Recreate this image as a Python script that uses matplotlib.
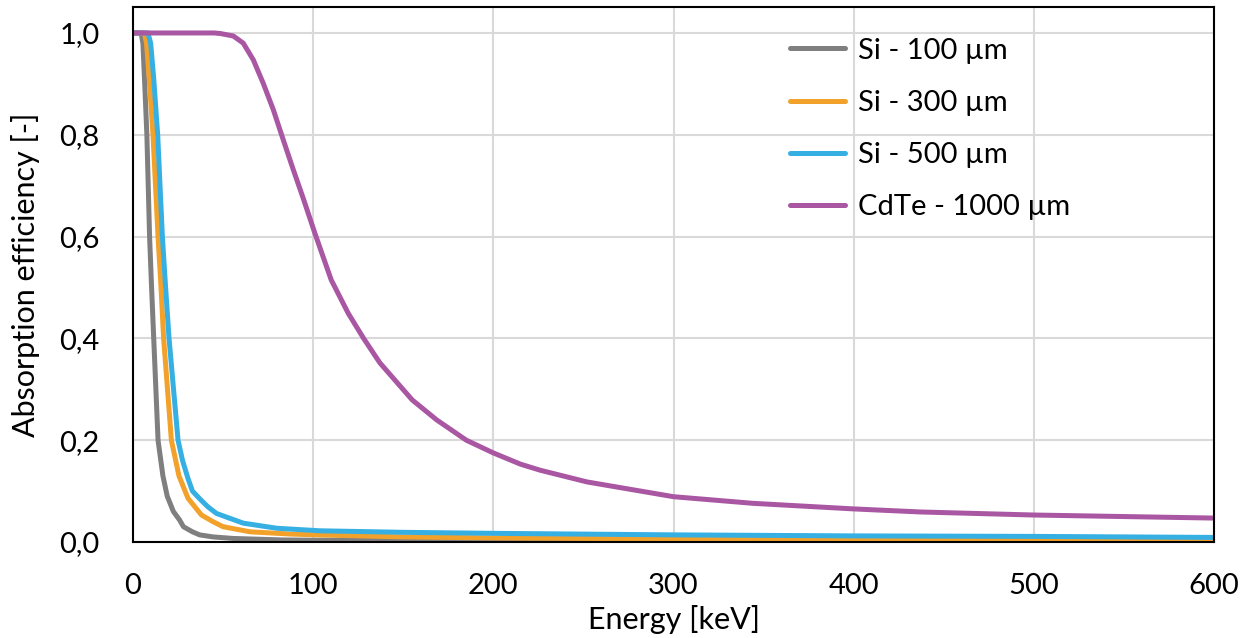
import matplotlib
matplotlib.use("Agg")
import matplotlib.pyplot as plt
from matplotlib.ticker import FuncFormatter

plt.rcParams['font.family'] = ['Lato', 'DejaVu Sans']

# values
e_si100 = [0, 4.5, 5.5, 6.5, 7.7, 9.2, 10.2, 11.5, 13.9, 16.6, 19, 22.4, 25.9, 28, 33, 37, 44.4, 55.5, 83, 100,
           200, 400, 600]
v_si100 = [1.0, 1.0, 0.98, 0.9, 0.8, 0.6, 0.51, 0.4, 0.2, 0.13, 0.09, 0.06, 0.043, 0.030, 0.02, 0.014, 0.010,
           0.007, 0.004, 0.0035, 0.002, 0.001, 0.001]

e_si300 = [0, 6.3, 7.5, 9, 11.1, 13.9, 15.4, 17, 21.3, 25.5, 30.5, 38, 44.4, 50, 65, 87, 104, 150, 200, 300,
           400, 500, 600]
v_si300 = [1.0, 1.0, 0.98, 0.91, 0.8, 0.6, 0.51, 0.4, 0.2, 0.13, 0.086, 0.053, 0.04, 0.030, 0.020, 0.0157,
           0.0138, 0.010, 0.008, 0.006, 0.005, 0.004, 0.003]

e_si500 = [0, 8.3, 9.8, 11.5, 13.7, 16.3, 18, 20, 25, 27.5, 30.5, 33, 37, 41.6, 46.4, 61.2, 79.8, 103.8, 150,
           200, 300, 400, 500, 600]
v_si500 = [1.0, 1.0, 0.98, 0.91, 0.8, 0.6, 0.505, 0.4, 0.2, 0.16, 0.125, 0.1, 0.085, 0.069, 0.056, 0.037,
           0.027, 0.022, 0.019, 0.017, 0.014, 0.012, 0.011, 0.009]

e_cdte = [0, 45, 48.3, 55.7, 61.2, 66.8, 72.3, 77.9, 83.4, 89, 94.5, 101, 110, 119.5, 128, 137, 155, 168.5, 185,
          200, 215, 226, 252, 300, 344, 400, 437, 500, 550, 600]
v_cdte = [1.0, 1.0, 0.999, 0.994, 0.98, 0.947, 0.901, 0.849, 0.79, 0.731, 0.675, 0.606, 0.515, 0.449, 0.40,
          0.352, 0.279, 0.24, 0.20, 0.175, 0.153, 0.141, 0.118, 0.089, 0.076, 0.065, 0.059, 0.053, 0.050, 0.047]

labels = ['Si - 100 µm', 'Si - 300 µm', 'Si - 500 µm', 'CdTe - 1000 µm']
colors = ['#7f7f7f', '#f2a12b', '#36afe3', '#a957a3']

fig = plt.figure(figsize=(12.53, 6.38), dpi=100)
ax = fig.add_axes([133 / 1253, 1 - 542 / 638, (1214 - 133) / 1253, (542 - 7) / 638])

series = [(e_si100, v_si100), (e_si300, v_si300), (e_si500, v_si500), (e_cdte, v_cdte)]
for (e, v), lab, c in zip(series, labels, colors):
    ax.plot(e, v, color=c, lw=3.6, label=lab, solid_capstyle='round', solid_joinstyle='round')

ax.set_xlim(0, 600)
ax.set_ylim(0, 1.051)
ax.set_xticks(range(0, 601, 100))
ax.set_yticks([0, 0.2, 0.4, 0.6, 0.8, 1.0])
ax.yaxis.set_major_formatter(FuncFormatter(lambda y, p: f"{y:.1f}".replace('.', ',')))
ax.grid(True, color='#d9d9d9', lw=1.5)
ax.set_axisbelow(True)
ax.tick_params(length=0, labelsize=21)
ax.xaxis.set_tick_params(pad=22)
ax.yaxis.set_tick_params(pad=24)
for s in ax.spines.values():
    s.set_color('black')
    s.set_linewidth(1.5)

ax.set_xlabel('Energy [keV]', fontsize=22, labelpad=5)
ax.set_ylabel('Absorption efficiency [-]', fontsize=22, labelpad=14)

ax.legend(loc='upper left', bbox_to_anchor=((790 - 133) / 1081, 1 - 30.6 / 535), frameon=False,
          fontsize=21, handlelength=1.88, handletextpad=0.45, labelspacing=0.9,
          borderaxespad=0, borderpad=0)

fig.savefig('out.png', dpi=100)
